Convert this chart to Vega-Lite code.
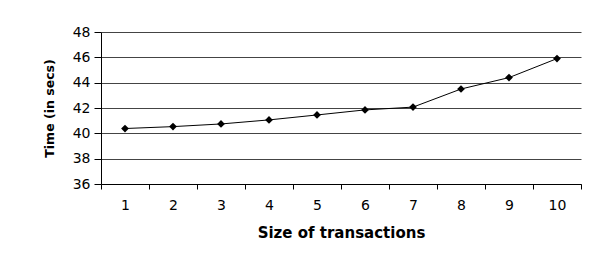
{
  "$schema": "https://vega.github.io/schema/vega-lite/v6.json",
  "width": 480,
  "height": 152,
  "autosize": {"type": "none"},
  "padding": {"left": 101, "top": 32, "right": 8, "bottom": 75},
  "background": "white",
  "config": {"view": {"stroke": null}},
  "data": {"values": [
    {"size": "1", "time": 40.38},
    {"size": "2", "time": 40.53},
    {"size": "3", "time": 40.74},
    {"size": "4", "time": 41.06},
    {"size": "5", "time": 41.45},
    {"size": "6", "time": 41.85},
    {"size": "7", "time": 42.07},
    {"size": "8", "time": 43.5},
    {"size": "9", "time": 44.4},
    {"size": "10", "time": 45.9}
  ]},
  "encoding": {
    "x": {
      "field": "size", "type": "ordinal", "sort": null,
      "scale": {"paddingInner": 0, "paddingOuter": 0},
      "axis": {
        "title": "Size of transactions", "labelAngle": 0, "tickBand": "extent",
        "domainColor": "#000", "tickColor": "#000", "tickSize": 5,
        "labelFont": "DejaVu Sans", "labelFontSize": 14, "labelColor": "#000", "labelPadding": 9,
        "titleFont": "DejaVu Sans", "titleFontSize": 15, "titleFontWeight": "bold", "titleColor": "#000", "titlePadding": 13,
        "grid": false
      }
    },
    "y": {
      "field": "time", "type": "quantitative",
      "scale": {"domain": [36, 48], "nice": false, "zero": false},
      "axis": {
        "title": "Time (in secs)", "values": [36, 38, 40, 42, 44, 46, 48],
        "domainColor": "#000", "tickColor": "#000", "tickSize": 7,
        "gridColor": "#444", "gridOpacity": 1,
        "labelFont": "DejaVu Sans", "labelFontSize": 14, "labelColor": "#000", "labelPadding": 4,
        "titleFont": "DejaVu Sans", "titleFontSize": 12.5, "titleFontWeight": "bold", "titleColor": "#000", "titlePadding": 16
      }
    }
  },
  "layer": [
    {"mark": {"type": "line", "color": "#000", "strokeWidth": 1}},
    {"mark": {"type": "point", "shape": "diamond", "filled": true, "color": "#000", "size": 60, "opacity": 1}}
  ]
}
